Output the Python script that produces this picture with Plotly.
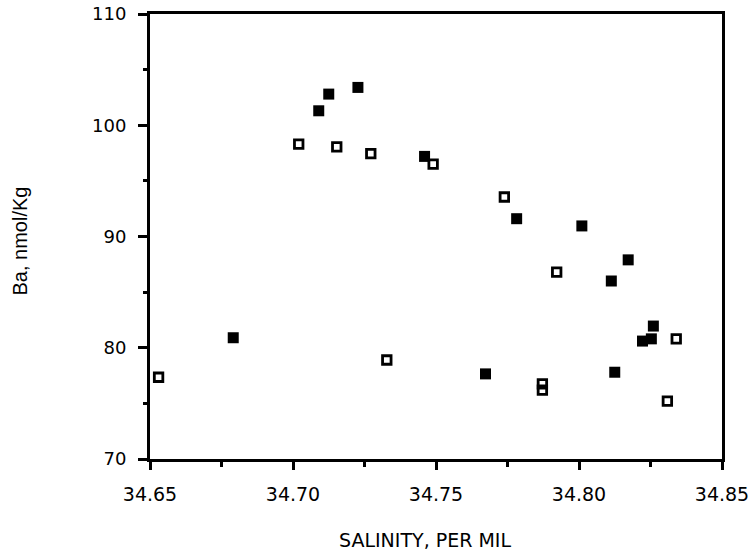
import plotly.graph_objects as go

# Filled squares
filled_sal = [34.709, 34.7125, 34.7227, 34.746, 34.7782, 34.801, 34.8172, 34.8113,
              34.826, 34.8222, 34.8253, 34.7673, 34.8125, 34.6791]
filled_ba = [101.3, 102.8, 103.4, 97.2, 91.6, 90.95, 87.9, 86.0,
             81.95, 80.6, 80.8, 77.65, 77.8, 80.9]

# Open squares
open_sal = [34.702, 34.7153, 34.7272, 34.749, 34.7739, 34.7922, 34.834, 34.7328,
            34.7872, 34.7872, 34.8309, 34.653]
open_ba = [98.3, 98.05, 97.45, 96.5, 93.55, 86.8, 80.8, 78.9,
           76.75, 76.2, 75.2, 77.35]

x_ticks = [34.65, 34.70, 34.75, 34.80, 34.85]
x_ticklabels = ["34.65", "34.70", "34.75", "34.80", "34.85"]
y_ticks = [70, 80, 90, 100, 110]

fig = go.Figure()
fig.add_trace(go.Scatter(
    x=filled_sal, y=filled_ba, mode="markers",
    marker=dict(symbol="square", size=11, color="black", line=dict(width=0)),
    showlegend=False, cliponaxis=False))
fig.add_trace(go.Scatter(
    x=open_sal, y=open_ba, mode="markers",
    marker=dict(symbol="square-open", size=8.5, color="black", line=dict(width=2.8)),
    showlegend=False, cliponaxis=False))

tick_family = "DejaVu Sans"
fig.update_layout(
    width=752, height=553,
    margin=dict(l=150, r=30, t=14, b=94),
    paper_bgcolor="white", plot_bgcolor="white",
    font=dict(family=tick_family, color="black"),
    xaxis=dict(range=[34.65, 34.85], tickvals=x_ticks, ticktext=x_ticklabels,
               automargin=False,
               showgrid=False, zeroline=False,
               showline=True, linecolor="black", linewidth=3, mirror=True,
               ticks="outside", ticklen=8, tickwidth=2.5, tickcolor="black",
               minor=dict(dtick=0.025, ticks="outside", ticklen=5, tickwidth=2.5,
                          tickcolor="black", showgrid=False),
               tickfont=dict(size=19, family=tick_family), ticklabelstandoff=8),
    yaxis=dict(range=[70, 110], tickvals=y_ticks,
               automargin=False,
               showgrid=False, zeroline=False,
               showline=True, linecolor="black", linewidth=3, mirror=True,
               ticks="outside", ticklen=9, tickwidth=2.5, tickcolor="black",
               minor=dict(dtick=5, ticks="outside", ticklen=4, tickwidth=2.5,
                          tickcolor="black", showgrid=False),
               tickfont=dict(size=18, family=tick_family), ticklabelstandoff=8),
    annotations=[
        dict(text="SALINITY, PER MIL", xref="paper", yref="paper",
             x=0.5, y=0, xanchor="center", yanchor="middle", yshift=-81, xshift=-11,
             showarrow=False, font=dict(size=19, family="DejaVu Sans")),
        dict(text="Ba, nmol/Kg", xref="paper", yref="paper",
             x=0, y=0.5, xanchor="center", yanchor="middle", xshift=-131, yshift=-5,
             textangle=-90, showarrow=False,
             font=dict(size=20, family="Liberation Sans")),
    ],
)

fig.write_html("out.html")
